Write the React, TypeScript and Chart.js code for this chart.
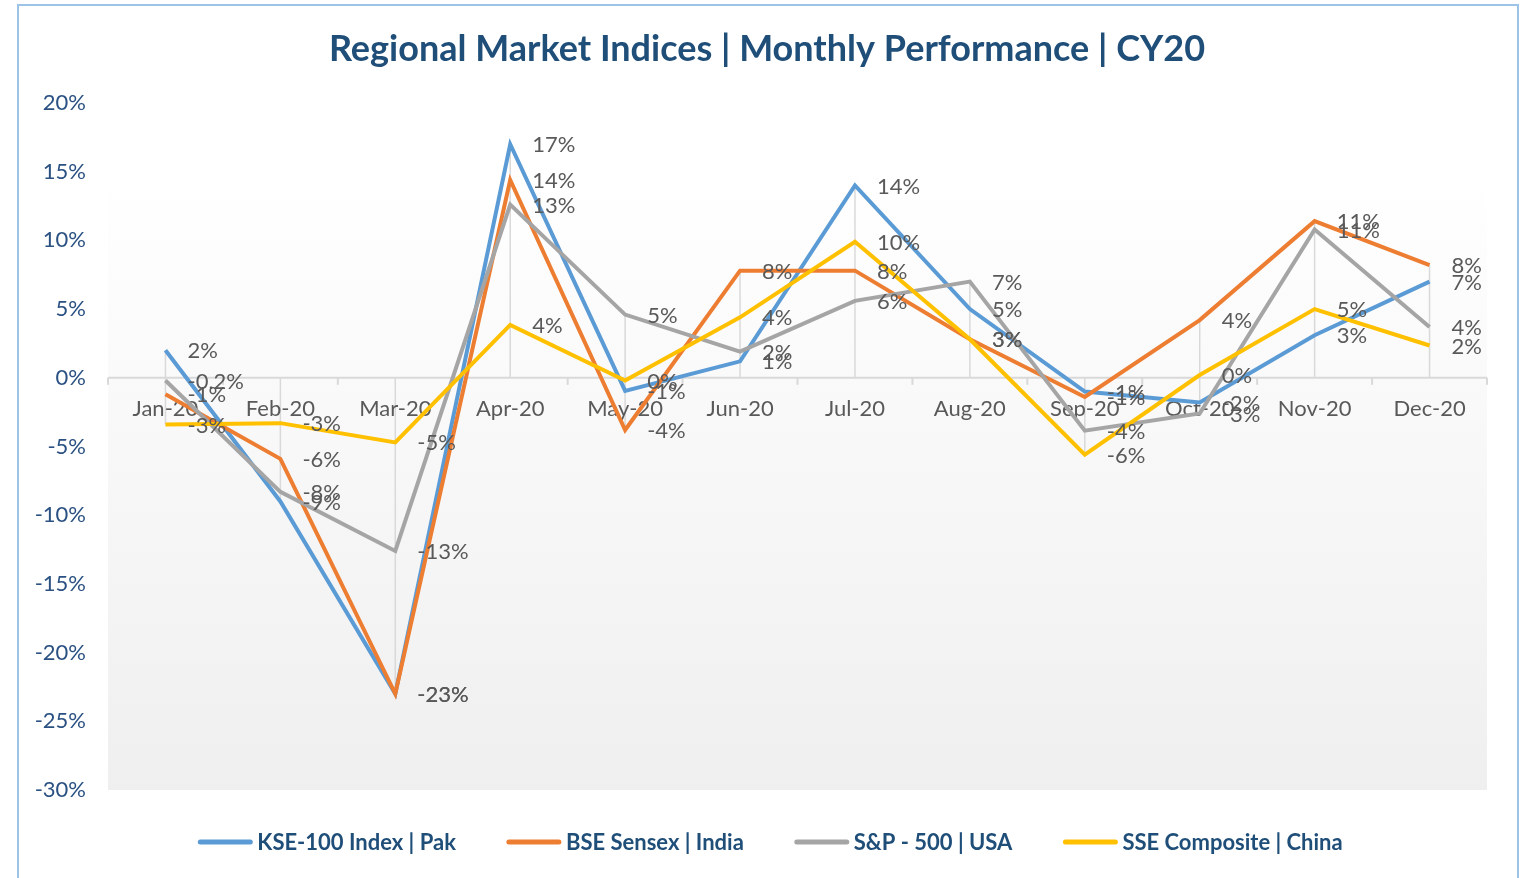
import React, { useEffect, useRef } from 'react';
import { Chart, registerables } from 'chart.js';

Chart.register(...registerables);

const TITLE = 'Regional Market Indices | Monthly Performance | CY20';
const months = ['Jan-20', 'Feb-20', 'Mar-20', 'Apr-20', 'May-20', 'Jun-20', 'Jul-20', 'Aug-20', 'Sep-20', 'Oct-20', 'Nov-20', 'Dec-20'];
const seriesNames = ['KSE-100 Index | Pak', 'BSE Sensex | India', 'S&P - 500 | USA', 'SSE Composite | China'];
const kse = [2.0, -9.0, -23.0, 17.0, -0.95, 1.2, 14.0, 5.0, -1.0, -1.8, 3.1, 7.0];
const bse = [-1.2, -5.9, -23.0, 14.4, -3.8, 7.8, 7.8, 2.8, -1.4, 4.2, 11.4, 8.2];
const sp500 = [-0.2, -8.3, -12.6, 12.6, 4.6, 1.9, 5.6, 7.0, -3.85, -2.6, 10.8, 3.7];
const sse = [-3.4, -3.3, -4.7, 3.85, -0.2, 4.4, 9.9, 2.8, -5.6, 0.2, 5.0, 2.35];
// label decimals per point (Excel showed one point with a decimal)
const sp500LabelDecimals = [1, 0, 0, 0, 0, 0, 0, 0, 0, 0, 0, 0];
const yMin = -30;
const yMax = 20;
const yStep = 5;

const colors = ['#5b9bd5', '#ed7d31', '#a5a5a5', '#ffc000'];
const FONT = 'Lato, "Open Sans", sans-serif';
const TEXT_BLUE = '#1f4e79';
const TEXT_GREY = '#595959';

function fmt(v: number, d: number) {
  if (d > 0) return `${v.toFixed(d)}%`;
  const r = Math.round(v);
  return `${r === 0 ? 0 : r}%`;
}

const backPlugin = {
  id: 'backPlugin',
  beforeDatasetsDraw(chart: any) {
    const { ctx, chartArea: a, scales } = chart;
    const xs = scales.x;
    const ys = scales.y;
    ctx.save();
    const g = ctx.createLinearGradient(0, a.top, 0, a.bottom);
    g.addColorStop(0, '#ffffff');
    g.addColorStop(0.1, '#ffffff');
    g.addColorStop(1, '#efefef');
    ctx.fillStyle = g;
    ctx.fillRect(a.left, a.top, a.right - a.left, a.bottom - a.top);

    // drop lines
    ctx.strokeStyle = '#d9d9d9';
    ctx.lineWidth = 1.5;
    const n = chart.data.labels.length;
    for (let i = 0; i < n; i++) {
      const vals = chart.data.datasets.map((d: any) => d.data[i]);
      const hi = Math.max(0, ...vals);
      const lo = Math.min(0, ...vals);
      const px = xs.getPixelForValue(i);
      ctx.beginPath();
      ctx.moveTo(px, ys.getPixelForValue(hi));
      ctx.lineTo(px, ys.getPixelForValue(lo));
      ctx.stroke();
    }
    // category axis at 0
    const y0 = ys.getPixelForValue(0);
    ctx.lineWidth = 2;
    ctx.beginPath();
    ctx.moveTo(a.left, y0);
    ctx.lineTo(a.right, y0);
    ctx.stroke();
    const half = (xs.getPixelForValue(1) - xs.getPixelForValue(0)) / 2;
    for (let k = 0; k <= n; k++) {
      const px = xs.getPixelForValue(0) - half + 2 * half * k;
      ctx.beginPath();
      ctx.moveTo(px, y0);
      ctx.lineTo(px, y0 + 7);
      ctx.stroke();
    }
    // category labels
    ctx.fillStyle = TEXT_GREY;
    ctx.font = `22px ${FONT}`;
    ctx.textAlign = 'center';
    ctx.textBaseline = 'middle';
    chart.data.labels.forEach((lab: string, i: number) => {
      ctx.fillText(lab, xs.getPixelForValue(i), y0 + 31);
    });
    ctx.restore();
  },
  afterDatasetsDraw(chart: any) {
    const { ctx } = chart;
    ctx.save();
    ctx.fillStyle = TEXT_GREY;
    ctx.font = `22px ${FONT}`;
    ctx.textAlign = 'left';
    ctx.textBaseline = 'middle';
    chart.data.datasets.forEach((ds: any, di: number) => {
      const meta = chart.getDatasetMeta(di);
      meta.data.forEach((pt: any, i: number) => {
        const dec = ds.labelDecimals ? ds.labelDecimals[i] : 0;
        ctx.fillText(fmt(ds.data[i], dec), pt.x + 22, pt.y + 1);
      });
    });
    ctx.restore();
  },
  afterDraw(chart: any) {
    const { ctx } = chart;
    const cx = 767;
    ctx.save();
    // title
    ctx.fillStyle = TEXT_BLUE;
    ctx.font = `bold 36px ${FONT}`;
    ctx.textAlign = 'center';
    ctx.textBaseline = 'middle';
    ctx.fillText(TITLE, cx, 49);

    // legend
    ctx.font = `bold 22px ${FONT}`;
    const lineLen = 56;
    const gapText = 4;
    const gapItem = 50;
    const widths = chart.data.datasets.map((d: any) => lineLen + gapText + ctx.measureText(d.label).width);
    const total = widths.reduce((s: number, w: number) => s + w, 0) + gapItem * (widths.length - 1);
    let x = cx + 3 - total / 2;
    const ly = 842;
    ctx.textAlign = 'left';
    chart.data.datasets.forEach((d: any, i: number) => {
      ctx.strokeStyle = d.borderColor;
      ctx.lineWidth = 5;
      ctx.lineCap = 'round';
      ctx.beginPath();
      ctx.moveTo(x + 3, ly);
      ctx.lineTo(x + lineLen - 3, ly);
      ctx.stroke();
      ctx.fillStyle = TEXT_BLUE;
      ctx.fillText(d.label, x + lineLen + gapText, ly + 1);
      x += widths[i] + gapItem;
    });
    ctx.restore();
  },
};

export default function App() {
  const ref = useRef<HTMLCanvasElement | null>(null);
  useEffect(() => {
    if (!ref.current) return;
    const all = [kse, bse, sp500, sse];
    const chart = new Chart(ref.current, {
      type: 'line',
      data: {
        labels: months,
        datasets: all.map((d, i) => ({
          label: seriesNames[i],
          data: d,
          borderColor: colors[i],
          backgroundColor: colors[i],
          borderWidth: 4,
          pointRadius: 0,
          tension: 0,
          order: 3 - i,
          labelDecimals: i === 2 ? sp500LabelDecimals : undefined,
        })) as any,
      },
      options: {
        responsive: false,
        animation: false,
        layout: { padding: { left: 0, top: 103, right: 37, bottom: 88 } },
        plugins: {
          legend: { display: false },
          title: { display: false },
          tooltip: { enabled: false },
        },
        scales: {
          x: { type: 'category', display: false, offset: true },
          y: {
            min: yMin,
            max: yMax,
            afterFit: (s: any) => { s.width = 108; },
            grid: { display: false, drawTicks: false },
            border: { display: false },
            ticks: {
              stepSize: yStep,
              padding: 22,
              color: '#2a5182',
              font: { family: FONT, size: 22 },
              callback: (v: any) => `${v}%`,
            },
          },
        },
      },
      plugins: [backPlugin],
    });
    return () => chart.destroy();
  }, []);

  return (
    <div style={{ position: 'fixed', left: 0, top: 0, width: 1524, height: 878, overflow: 'hidden', background: '#ffffff' }}>
      <canvas ref={ref} width={1524} height={878} style={{ position: 'absolute', left: 0, top: 0, width: 1524, height: 878 }} />
      <div style={{ position: 'absolute', left: 17, top: 4, width: 1502, height: 1000, boxSizing: 'border-box', border: '2px solid #9dc3e6', pointerEvents: 'none' }} />
    </div>
  );
}
